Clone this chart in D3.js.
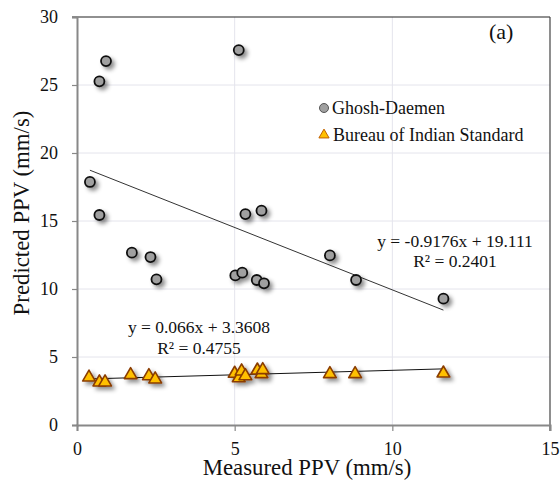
<!DOCTYPE html>
<html><head><meta charset="utf-8">
<script src="https://cdn.jsdelivr.net/npm/d3@7"></script>
<style>body{margin:0;background:#fff}svg{display:block}svg text{font-family:"Liberation Serif","Times New Roman",serif !important}</style>
</head><body>
<script>
const ghoshX = [0.41,0.71,0.71,0.92,5.13,5.34,5.85,1.74,2.33,2.52,5.02,5.24,5.70,5.93,8.02,8.85,11.62];
const ghoshY = [17.87,15.44,25.27,26.76,27.57,15.51,15.76,12.67,12.35,10.71,11.00,11.20,10.66,10.42,12.47,10.66,9.29];
const bisX = [0.38,0.71,0.89,1.70,2.28,2.48,5.00,5.13,5.22,5.34,5.72,5.85,5.89,8.02,8.82,11.62];
const bisY = [3.50,3.14,3.14,3.68,3.60,3.36,3.78,3.45,3.95,3.60,4.02,3.75,4.05,3.75,3.75,3.80];
const xTicks = [0,5,10,15];
const yTicks = [0,5,10,15,20,25,30];
const fitG = {m:-0.9176, b:19.111, label:"y = -0.9176x + 19.111", r2:"R² = 0.2401"};
const fitB = {m:0.066, b:3.3608, label:"y = 0.066x + 3.3608", r2:"R² = 0.4755"};
const seriesNames = ["Ghosh-Daemen","Bureau of Indian Standard"];

const FONT="Liberation Serif";
const W=560,H=485;
const svg=d3.select("body").append("svg").attr("width",W).attr("height",H).attr("font-family",FONT);
const defs=svg.append("defs");
const f=defs.append("filter").attr("id","sh").attr("x","-50%").attr("y","-50%").attr("width","250%").attr("height","250%");
f.append("feDropShadow").attr("dx",3).attr("dy",3).attr("stdDeviation",2).attr("flood-color","#000").attr("flood-opacity",0.45);

const x=d3.scaleLinear().domain([0,15]).range([77,550]);
const y=d3.scaleLinear().domain([0,30]).range([425,17]);

// grid
svg.append("g").selectAll("line").data(yTicks.slice(1,-1)).join("line")
 .attr("x1",77).attr("x2",550).attr("y1",d=>y(d)).attr("y2",d=>y(d)).attr("stroke","#e4e4ec").attr("stroke-width",1);
svg.append("g").selectAll("line").data(xTicks.slice(1,-1)).join("line")
 .attr("y1",17).attr("y2",425).attr("x1",d=>x(d)).attr("x2",d=>x(d)).attr("stroke","#e4e4ec").attr("stroke-width",1);

// frame
svg.append("line").attr("x1",72).attr("x2",550).attr("y1",17).attr("y2",17).attr("stroke","#222").attr("stroke-width",1.2);
svg.append("line").attr("x1",550).attr("x2",550).attr("y1",17).attr("y2",431).attr("stroke","#444").attr("stroke-width",1.2);

// axes
const ya=svg.append("g").attr("transform","translate(77,0)").call(d3.axisLeft(y).tickValues(yTicks).tickSize(5).tickPadding(14));
ya.attr("font-family",FONT).attr("font-size",18);
ya.select(".domain").attr("stroke","#888").attr("stroke-width",2);
ya.selectAll(".tick line").attr("stroke","#888").attr("stroke-width",1.2);
ya.selectAll("text").attr("fill","#111");
const xa=svg.append("g").attr("transform","translate(0,425)").call(d3.axisBottom(x).tickValues(xTicks).tickSize(6).tickPadding(11));
xa.attr("font-family",FONT).attr("font-size",18);
xa.select(".domain").attr("stroke","#888").attr("stroke-width",2);
xa.selectAll(".tick line").attr("stroke","#888").attr("stroke-width",1.2);
xa.selectAll("text").attr("fill","#111");

// trend lines
function trend(fit,xs,col){
 const x0=d3.min(xs),x1=d3.max(xs);
 svg.append("line").attr("x1",x(x0)).attr("x2",x(x1)).attr("y1",y(fit.m*x0+fit.b)).attr("y2",y(fit.m*x1+fit.b))
  .attr("stroke",col).attr("stroke-width",1);
}
trend(fitG,ghoshX,"#333");
trend(fitB,bisX,"#111");

// markers
const gData=ghoshX.map((v,i)=>[v,ghoshY[i]]);
const bData=bisX.map((v,i)=>[v,bisY[i]]);
svg.append("g").attr("filter","url(#sh)").selectAll("circle").data(gData).join("circle")
 .attr("cx",d=>x(d[0])).attr("cy",d=>y(d[1])).attr("r",5)
 .attr("fill","#a0a0a0").attr("stroke","#111").attr("stroke-width",1.8);
const tri=d3.symbol().type(d3.symbolTriangle).size(70);
svg.append("g").attr("filter","url(#sh)").selectAll("path").data(bData).join("path")
 .attr("d",tri).attr("transform",d=>`translate(${x(d[0])},${y(d[1])})`)
 .attr("fill","#ffc000").attr("stroke","#8a3c00").attr("stroke-width",1.6).attr("stroke-linejoin","round");

function txt(xp,yp,s,size,anchor){
 return svg.append("text").attr("x",xp).attr("y",yp).attr("text-anchor",anchor||"start")
  .attr("font-size",size).attr("fill","#111").text(s);
}
// equations
txt(455,247,fitG.label,17.5,"middle");
txt(455,267,fitG.r2,17.5,"middle");
txt(199,333,fitB.label,17.5,"middle");
txt(199,354,fitB.r2,17.5,"middle");

// legend
svg.append("circle").attr("cx",324).attr("cy",108).attr("r",4.5).attr("fill","#a0a0a0").attr("stroke","#555").attr("stroke-width",1);
txt(332,113.5,seriesNames[0],18);
svg.append("path").attr("d",d3.symbol().type(d3.symbolTriangle).size(45)).attr("transform","translate(324,135)")
 .attr("fill","#ffc000").attr("stroke","#c06000").attr("stroke-width",1);
txt(333,140.5,seriesNames[1],18);

// panel label
txt(489,39,"(a)",22);

// axis titles
txt(307,475,"Measured PPV (mm/s)",22.8,"middle");
svg.append("text").attr("transform","translate(29,213) rotate(-90)").attr("text-anchor","middle")
 .attr("font-size",22.8).attr("fill","#111").text("Predicted PPV (mm/s)");
</script>
</body></html>
